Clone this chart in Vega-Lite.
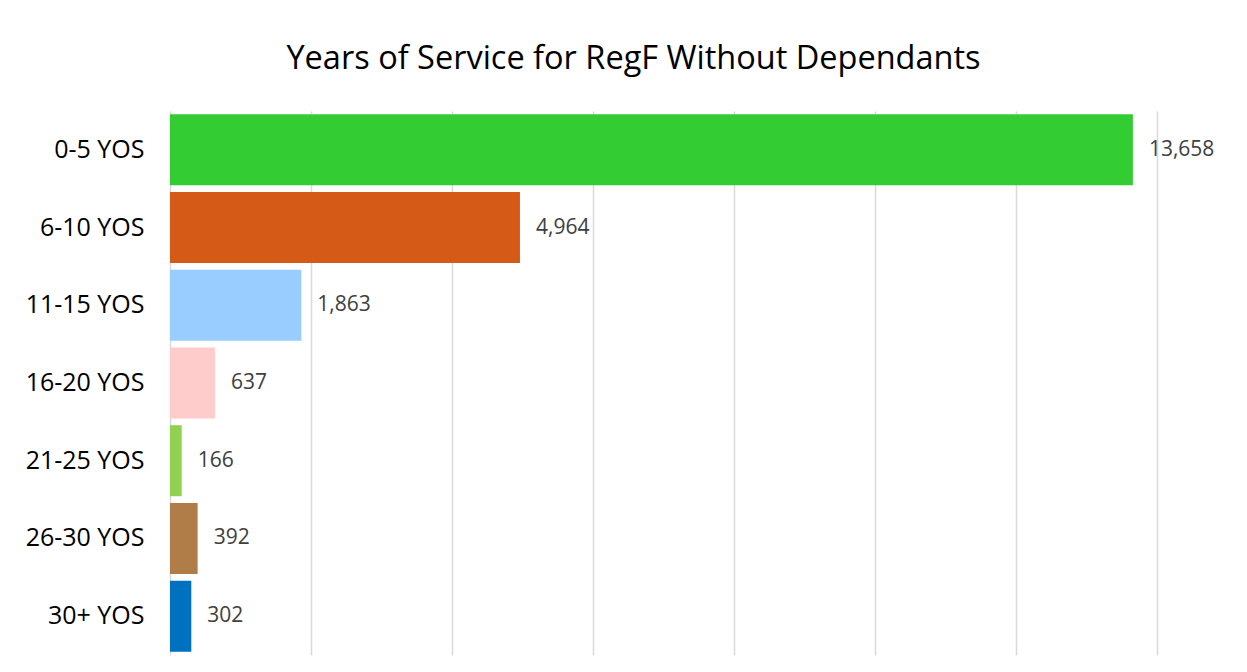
{
  "$schema": "https://vega.github.io/schema/vega-lite/v6.json",
  "width": 987,
  "height": 544,
  "autosize": {"type": "none"},
  "padding": {"left": 170, "top": 111, "right": 90, "bottom": 17},
  "background": "white",
  "title": {
    "text": "Years of Service for RegF Without Dependants",
    "font": "Open Sans",
    "fontSize": 32.5,
    "fontWeight": "normal",
    "color": "#000000",
    "anchor": "middle",
    "dx": -30,
    "offset": 36
  },
  "data": {
    "values": [
      {"yos": "0-5 YOS", "count": 13658, "color": "#33CC33"},
      {"yos": "6-10 YOS", "count": 4964, "color": "#D55A17"},
      {"yos": "11-15 YOS", "count": 1863, "color": "#99CCFF"},
      {"yos": "16-20 YOS", "count": 637, "color": "#FFCCCC"},
      {"yos": "21-25 YOS", "count": 166, "color": "#92D050"},
      {"yos": "26-30 YOS", "count": 392, "color": "#B07D48"},
      {"yos": "30+ YOS", "count": 302, "color": "#0070C0"}
    ]
  },
  "encoding": {
    "y": {
      "field": "yos",
      "type": "nominal",
      "sort": null,
      "scale": {"paddingInner": 0.086, "paddingOuter": 0.043},
      "axis": {
        "title": null,
        "domain": false,
        "ticks": false,
        "labelPadding": 26,
        "labelFont": "Open Sans",
        "labelFontSize": 25,
        "labelColor": "#000000"
      }
    },
    "x": {
      "field": "count",
      "type": "quantitative",
      "scale": {"domain": [0, 14000], "nice": false},
      "axis": {
        "title": null,
        "labels": false,
        "ticks": false,
        "domain": false,
        "values": [0, 2000, 4000, 6000, 8000, 10000, 12000, 14000],
        "grid": true,
        "gridColor": "#D9D9D9",
        "gridWidth": 1.5
      }
    }
  },
  "layer": [
    {
      "mark": {"type": "bar"},
      "encoding": {
        "color": {"field": "color", "type": "nominal", "scale": null, "legend": null}
      }
    },
    {
      "mark": {
        "type": "text",
        "align": "left",
        "baseline": "middle",
        "dx": 16,
        "font": "Open Sans",
        "fontSize": 21,
        "color": "#404040"
      },
      "encoding": {
        "text": {"field": "count", "type": "quantitative", "format": ","}
      }
    }
  ],
  "config": {
    "view": {"stroke": null}
  }
}
